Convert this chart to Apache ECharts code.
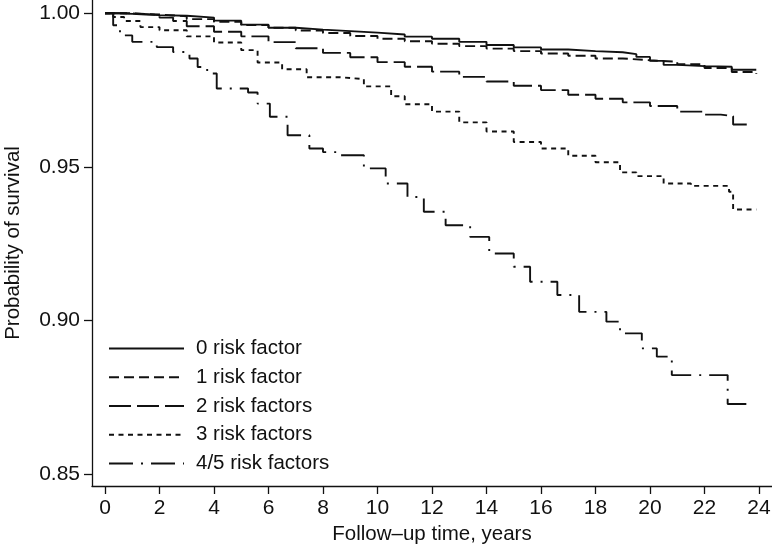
<!DOCTYPE html>
<html>
<head>
<meta charset="utf-8">
<script src="https://cdn.jsdelivr.net/npm/echarts@6/dist/echarts.min.js"></script>
<style>
html,body{margin:0;padding:0;background:#fff;}
#c{width:772px;height:551px;}
</style>
</head>
<body>
<div id="c"></div>
<script>
// Series names
const seriesNames = ['0 risk factor', '1 risk factor', '2 risk factors', '3 risk factors', '4/5 risk factors'];

// Follow-up time (years) and survival probability
const t0 = [0, 0.5, 1, 1.5, 2, 3, 4, 5, 6, 7, 8, 9, 10, 11, 12, 13, 14, 15, 16, 17, 18, 19, 19.5, 20, 20.5, 21, 22, 23, 23.9];
const s0 = [1, 0.9998, 0.9996, 0.9994, 0.9992, 0.9986, 0.9976, 0.9963, 0.9953, 0.9947, 0.9942, 0.9937, 0.9931, 0.9924, 0.9917, 0.9907, 0.9897, 0.9889, 0.9882, 0.9877, 0.9873, 0.9867, 0.9858, 0.9845, 0.9832, 0.9828, 0.9826, 0.9816, 0.9816];

const t1 = [0, 1, 2, 3, 4, 5, 6, 7, 8, 9, 10, 11, 12, 13, 14, 15, 16, 17, 18, 19, 20, 21, 22, 23, 23.9];
const s1 = [1, 0.9996, 0.9990, 0.9981, 0.9972, 0.9962, 0.9953, 0.9944, 0.9936, 0.9926, 0.9917, 0.9909, 0.9901, 0.9893, 0.9885, 0.9877, 0.9869, 0.9862, 0.9853, 0.9847, 0.9842, 0.9834, 0.9822, 0.9809, 0.9802];

const t2 = [0, 1, 2, 2.5, 3, 4, 5, 6, 7, 8, 9, 10, 11, 12, 13, 14, 15, 16, 17, 18, 19, 20, 21, 22, 22.6, 23.05, 23.7];
const s2 = [1, 0.9995, 0.9986, 0.9975, 0.9958, 0.9940, 0.9925, 0.9906, 0.9886, 0.9871, 0.9857, 0.9841, 0.9826, 0.9810, 0.9793, 0.9778, 0.9764, 0.9750, 0.9735, 0.9722, 0.9710, 0.9698, 0.9680, 0.9670, 0.9665, 0.9638, 0.9638];

const t3 = [0, 0.3, 0.7, 1.3, 2, 3, 4, 5, 5.6, 6.5, 7.4, 8.6, 9.5, 10.5, 11, 12, 13, 14, 15, 16, 17, 18, 18.9, 19.5, 20.5, 21.5, 22.9, 23.05, 23.9];
const s3 = [1, 0.9988, 0.9975, 0.9955, 0.9945, 0.9925, 0.9905, 0.9880, 0.9840, 0.9818, 0.9792, 0.9786, 0.9762, 0.9730, 0.9704, 0.9680, 0.9645, 0.9615, 0.9581, 0.9560, 0.9536, 0.9515, 0.9482, 0.9470, 0.9446, 0.9438, 0.9419, 0.9361, 0.9361];

const t4 = [0, 0.3, 0.55, 1.0, 1.9, 2.5, 3.1, 3.4, 3.75, 4.1, 5.25, 5.6, 6.05, 6.7, 7.5, 8.0, 8.6, 9.5, 10.3, 11.1, 11.7, 12.5, 13.4, 14.1, 15.0, 15.6, 16.6, 17.4, 18.4, 18.9, 19.7, 20.25, 20.8, 22.85, 23.55];
const s4 = [1, 0.9961, 0.9928, 0.9907, 0.9890, 0.9874, 0.9853, 0.9825, 0.9804, 0.9755, 0.9742, 0.9706, 0.9663, 0.9603, 0.9560, 0.9548, 0.9538, 0.9495, 0.9446, 0.9402, 0.9354, 0.9310, 0.9272, 0.9218, 0.9175, 0.9126, 0.9083, 0.9028, 0.8996, 0.8958, 0.8909, 0.8882, 0.8822, 0.8728, 0.8728];

// Tick labels
const xTicks = [0, 2, 4, 6, 8, 10, 12, 14, 16, 18, 20, 22, 24];
const yTicks = [0.85, 0.90, 0.95, 1.00];

const times = [t0, t1, t2, t3, t4];
const survs = [s0, s1, s2, s3, s4];
const dashes = ['solid', [10, 5], [22, 6], [5, 4.5], [24, 8, 2, 8]];

const FONT = '"Liberation Sans", Arial, Helvetica, sans-serif';
const INK = '#111';

const chart = echarts.init(document.getElementById('c'), null, {renderer: 'canvas'});

const series = seriesNames.map((name, i) => ({
  name: name,
  type: 'line',
  step: 'end',
  symbol: 'none',
  showSymbol: false,
  data: times[i].map((t, k) => [t, survs[i][k]]),
  lineStyle: {color: INK, width: 1.9, type: dashes[i]},
  itemStyle: {color: INK},
  emphasis: {disabled: true},
  silent: true
}));

chart.setOption({
  animation: false,
  backgroundColor: '#fff',
  grid: {left: 92, right: 0, top: 0, bottom: 65, containLabel: false, outerBoundsMode: 'none'},
  xAxis: {
    type: 'value',
    min: -0.477,
    max: 24.477,
    name: 'Follow\u2013up time, years',
    nameLocation: 'middle',
    nameGap: 33,
    nameTextStyle: {fontFamily: FONT, fontSize: 20.5, color: INK},
    axisLine: {show: true, onZero: false, lineStyle: {color: INK, width: 1.3}},
    axisTick: {show: true, length: 8, lineStyle: {color: INK, width: 1.3}, customValues: xTicks},
    axisLabel: {fontFamily: FONT, fontSize: 21, color: INK, margin: 12, customValues: xTicks, formatter: v => String(v)},
    splitLine: {show: false}
  },
  yAxis: {
    type: 'value',
    min: 0.84609,
    max: 1.00433,
    name: 'Probability of survival',
    nameLocation: 'middle',
    nameGap: 68,
    nameRotate: 90,
    nameTextStyle: {fontFamily: FONT, fontSize: 20.5, color: INK},
    axisLine: {show: true, onZero: false, lineStyle: {color: INK, width: 1.3}},
    axisTick: {show: true, length: 8, lineStyle: {color: INK, width: 1.3}, customValues: yTicks},
    axisLabel: {fontFamily: FONT, fontSize: 21, color: INK, margin: 12, customValues: yTicks, formatter: v => v.toFixed(2)},
    splitLine: {show: false}
  },
  legend: {
    show: true,
    orient: 'vertical',
    left: 108,
    top: 338,
    itemWidth: 75,
    itemHeight: 14,
    itemGap: 7.75,
    selectedMode: false,
    padding: 0,
    itemStyle: {opacity: 0, borderWidth: 0},
    textStyle: {fontFamily: FONT, fontSize: 20.5, color: INK, padding: [0, 0, 0, 7]},
    data: seriesNames
  },
  series: series
});
</script>
</body>
</html>
